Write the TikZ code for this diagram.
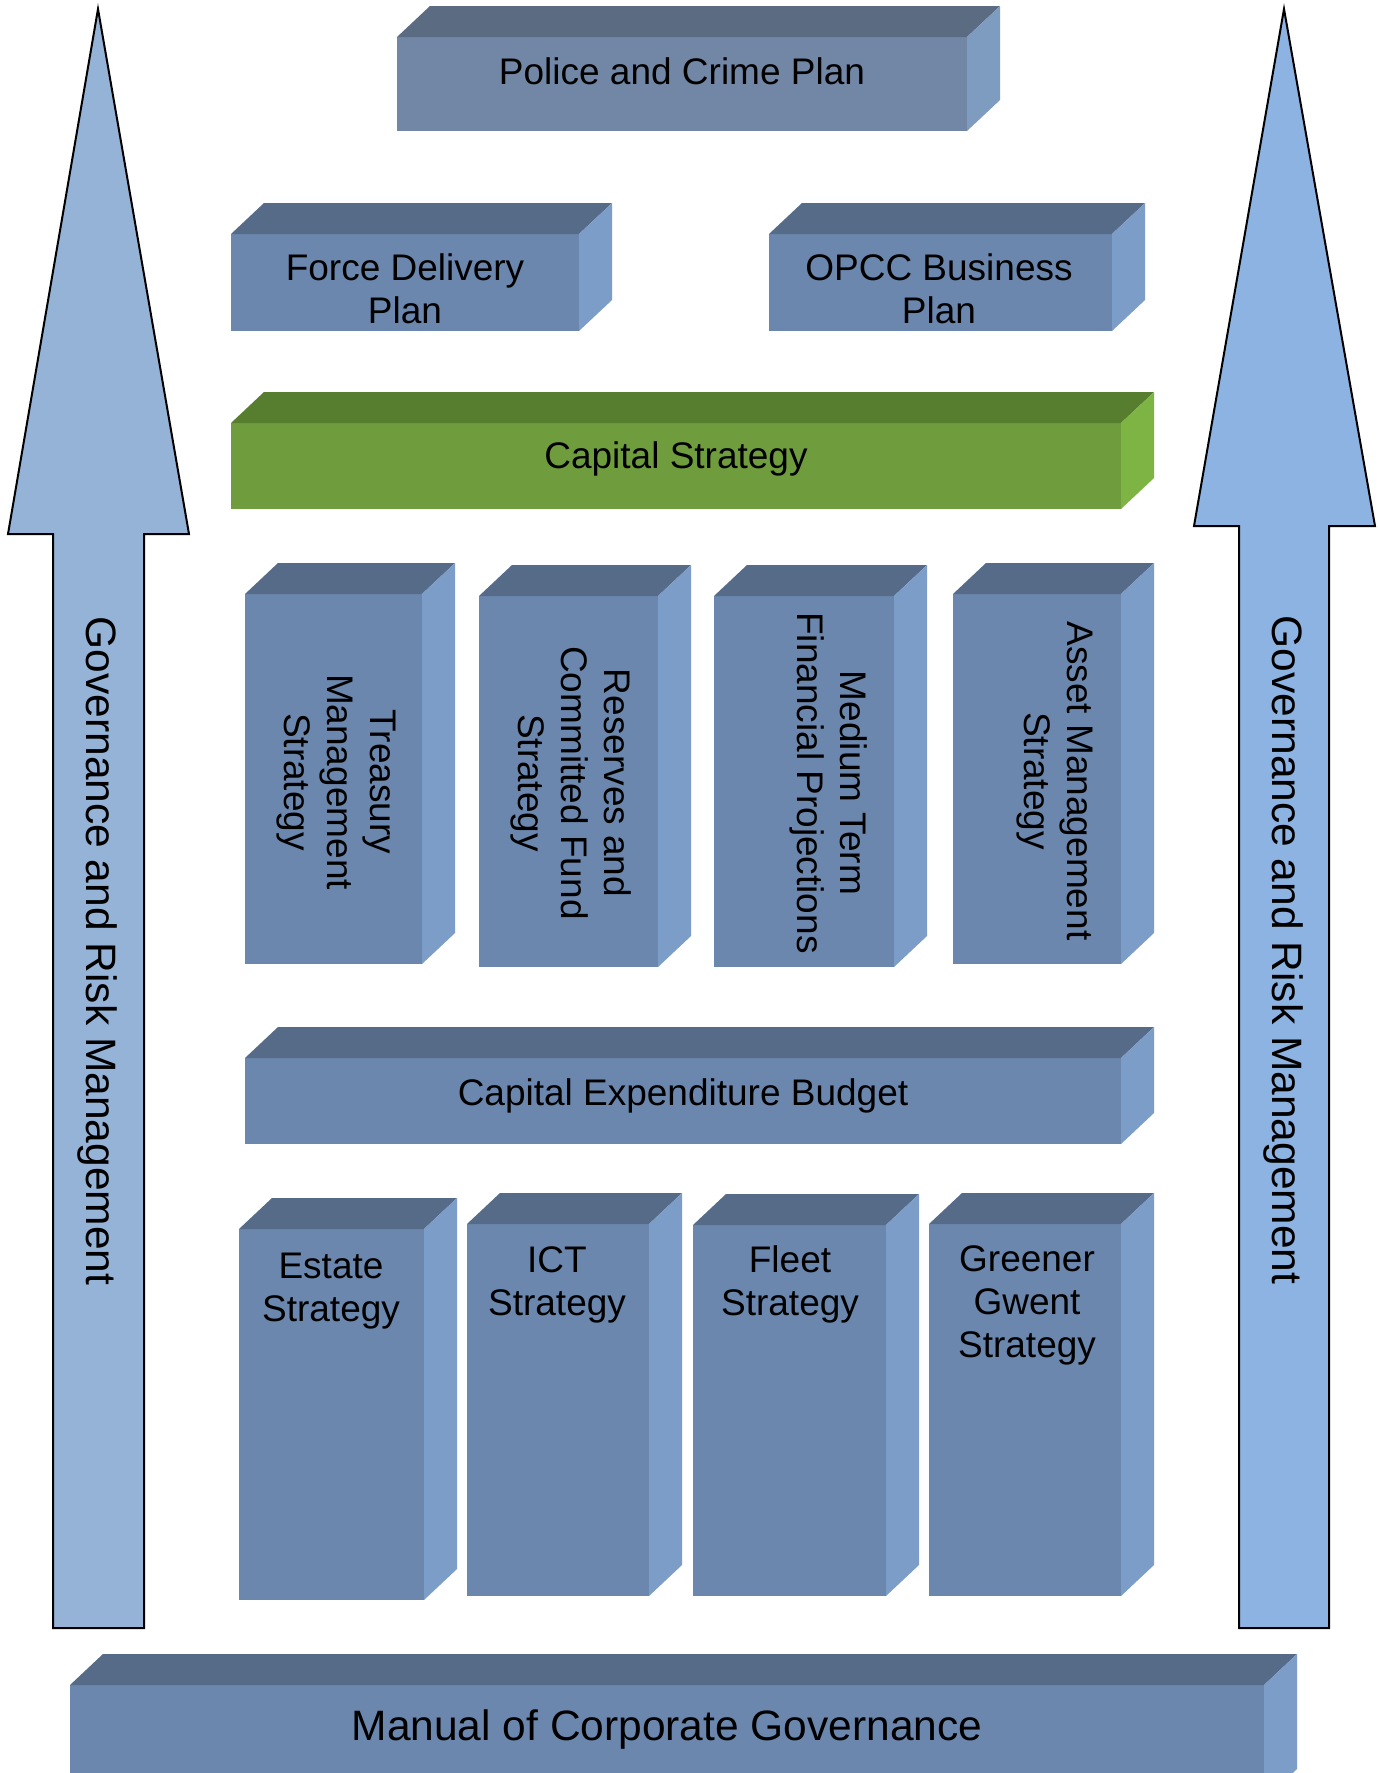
\documentclass[tikz,border=0pt]{standalone}
\usepackage{fontspec}
\setmainfont{Liberation Sans}
\definecolor{frontblue}{HTML}{6B87AD}
\definecolor{topblue}{HTML}{566B87}
\definecolor{sideblue}{HTML}{7C9DC8}
\definecolor{frontpcp}{HTML}{7287A5}
\definecolor{toppcp}{HTML}{5A6B82}
\definecolor{sidepcp}{HTML}{7E9CC0}
\definecolor{frontgreen}{HTML}{6F9D3D}
\definecolor{topgreen}{HTML}{567E2E}
\definecolor{sidegreen}{HTML}{7DB444}
\definecolor{arrowL}{HTML}{95B3D7}
\definecolor{arrowR}{HTML}{8DB3E2}
\newcommand\dpx{33}
\newcommand\dpy{31}
% name, x1, y1, x2, y2, front, top, side
\newcommand\prismbox[8]{%
  \node[fill=#6, inner sep=0pt, outer sep=0pt, anchor=north west,
        minimum width={(#4-#2)*1pt}, minimum height={(#5-#3)*1pt}] (#1) at (#2,#3) {};
  \fill[#7] (#1.north west) -- ++(\dpx,-\dpy) -- ([shift={(\dpx,-\dpy)}]#1.north east) -- (#1.north east) -- cycle;
  \fill[#8] (#1.north east) -- ++(\dpx,-\dpy) -- ([shift={(\dpx,-\dpy)}]#1.south east) -- (#1.south east) -- cycle;
}
\tikzset{
  lbl/.style={font=\fontsize{37}{43}\selectfont, align=center, inner sep=0pt, text=black},
  biglbl/.style={font=\fontsize{42.5}{48}\selectfont, align=center, inner sep=0pt, text=black},
  govarrow/.style={draw=black, line width=2pt, line join=miter},
}
\begin{document}
\begin{tikzpicture}[x=1pt, y=-1pt]
\useasboundingbox (0,0) rectangle (1377,1773);
\fill[white] (0,0) rectangle (1377,1773);

% Governance arrows
\filldraw[govarrow, fill=arrowL] (98,9) -- (189,534) -- (144,534) -- (144,1628) -- (53,1628) -- (53,534) -- (8,534) -- cycle;
\filldraw[govarrow, fill=arrowR] (1284,9) -- (1375,526) -- (1329,526) -- (1329,1628) -- (1239,1628) -- (1239,526) -- (1194,526) -- cycle;
\node[biglbl, rotate=-90] (govL) at (97,951) {Governance and Risk Management};
\node[biglbl, rotate=-90] (govR) at (1283,950) {Governance and Risk Management};

% Boxes
\prismbox{pcp}{397}{37}{967}{131}{frontpcp}{toppcp}{sidepcp}
\node[lbl] (pcpt) at (682,71) {Police and Crime Plan};

\prismbox{fdp}{231}{234}{579}{331}{frontblue}{topblue}{sideblue}
\node[lbl] (fdpt) at (405,289) {Force Delivery\\Plan};

\prismbox{opcc}{769}{234}{1112}{331}{frontblue}{topblue}{sideblue}
\node[lbl] (opcct) at (939,289) {OPCC Business\\Plan};

\prismbox{cap}{231}{423}{1121}{509}{frontgreen}{topgreen}{sidegreen}
\node[lbl] (capt) at (676,459) {Capital Strategy};

\prismbox{tms}{245}{594}{422}{964}{frontblue}{topblue}{sideblue}
\node[lbl, rotate=-90] (tmst) at (336,782) {Treasury\\Management\\Strategy};

\prismbox{rcf}{479}{596}{658}{967}{frontblue}{topblue}{sideblue}
\node[lbl, rotate=-90] (rcft) at (571,783) {Reserves and\\Committed Fund\\Strategy};

\prismbox{mtf}{714}{596}{894}{967}{frontblue}{topblue}{sideblue}
\node[lbl, rotate=-90] (mtft) at (829,783) {Medium Term\\Financial Projections};

\prismbox{ams}{953}{594}{1121}{964}{frontblue}{topblue}{sideblue}
\node[lbl, rotate=-90] (amst) at (1055,781) {Asset Management\\Strategy};

\prismbox{ceb}{245}{1058}{1121}{1144}{frontblue}{topblue}{sideblue}
\node[lbl] (cebt) at (683,1096) {Capital Expenditure Budget};

\prismbox{est}{239}{1229}{424}{1600}{frontblue}{topblue}{sideblue}
\node[lbl] (estt) at (331,1291) {Estate\\Strategy};

\prismbox{ict}{467}{1224}{649}{1596}{frontblue}{topblue}{sideblue}
\node[lbl] (ictt) at (557,1285) {ICT\\Strategy};

\prismbox{flt}{693}{1225}{886}{1596}{frontblue}{topblue}{sideblue}
\node[lbl] (fltt) at (790,1284) {Fleet\\Strategy};

\prismbox{ggs}{929}{1224}{1121}{1596}{frontblue}{topblue}{sideblue}
\node[lbl] (ggst) at (1027,1305) {Greener\\Gwent\\Strategy};

\prismbox{mcg}{70}{1685}{1264}{1800}{frontblue}{topblue}{sideblue}
\node[biglbl] (mcgt) at (667,1729) {Manual of Corporate Governance};
\end{tikzpicture}
\end{document}
